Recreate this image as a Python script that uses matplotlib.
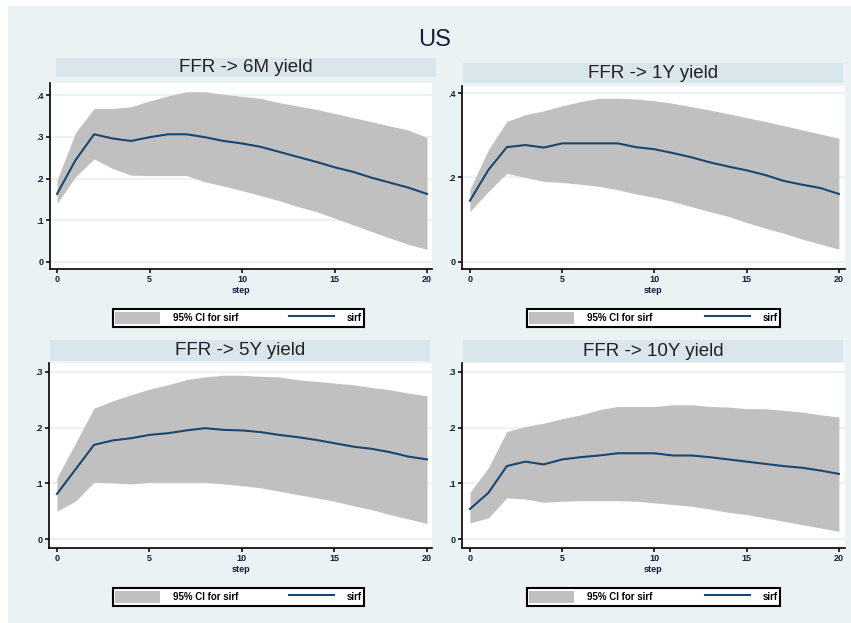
import numpy as np
import matplotlib
matplotlib.use('Agg')
import matplotlib.pyplot as plt
from matplotlib.patches import Rectangle, Patch
from matplotlib.lines import Line2D
from matplotlib.ticker import FuncFormatter

plt.rcParams['font.family'] = ['Liberation Sans', 'DejaVu Sans']

# 数据：各期限收益率对 FFR 冲击的脉冲响应
step = np.arange(21)

panel_titles = ['FFR -> 6M yield', 'FFR -> 1Y yield', 'FFR -> 5Y yield', 'FFR -> 10Y yield']

irf_6m = [.163, .244, .306, .296, .290, .299, .306, .306, .299, .290, .284,
          .276, .264, .252, .240, .227, .216, .202, .190, .178, .163]
hi_6m = [.196, .310, .368, .368, .372, .386, .398, .408, .408, .402, .397,
         .392, .382, .374, .366, .356, .346, .336, .326, .316, .298]
lo_6m = [.140, .204, .247, .224, .208, .207, .207, .207, .192, .182, .171,
         .159, .147, .133, .121, .105, .089, .073, .057, .042, .030]

irf_1y = [.145, .218, .272, .277, .271, .281, .281, .281, .281, .272, .267,
          .258, .248, .236, .226, .217, .206, .192, .183, .175, .161]
hi_1y = [.172, .266, .333, .349, .358, .370, .380, .388, .388, .386, .382,
         .376, .368, .360, .351, .342, .333, .323, .313, .303, .293]
lo_1y = [.119, .167, .210, .200, .191, .188, .184, .179, .171, .161, .153,
         .143, .131, .119, .108, .093, .080, .068, .054, .042, .030]

irf_5y = [.081, .125, .169, .177, .181, .187, .190, .195, .199, .196, .195,
          .192, .187, .183, .178, .172, .166, .162, .156, .148, .143]
hi_5y = [.110, .172, .235, .248, .259, .269, .277, .286, .291, .294, .294,
         .292, .291, .286, .283, .280, .277, .272, .268, .262, .257]
lo_5y = [.050, .068, .102, .101, .099, .102, .102, .102, .102, .099, .096,
         .092, .086, .080, .074, .068, .060, .053, .044, .036, .028]

irf_10y = [.054, .083, .131, .139, .134, .143, .147, .150, .154, .154, .154,
           .150, .150, .147, .143, .139, .135, .131, .128, .123, .117]
hi_10y = [.084, .128, .193, .202, .208, .216, .223, .232, .238, .238, .238,
          .241, .241, .238, .237, .234, .234, .231, .228, .223, .219]
lo_10y = [.029, .038, .074, .072, .066, .068, .069, .069, .069, .068, .065,
          .062, .059, .054, .048, .044, .038, .032, .026, .020, .014]

irfs = [irf_6m, irf_1y, irf_5y, irf_10y]
his = [hi_6m, hi_1y, hi_5y, hi_10y]
los = [lo_6m, lo_1y, lo_5y, lo_10y]
yticks = [[0, .1, .2, .3, .4], [0, .2, .4], [0, .1, .2, .3], [0, .1, .2, .3]]

W, H = 851, 623
BG = '#EAF2F3'
BAND = '#D9E6EB'
CI = '#C0C0C0'
NAVY = '#1A476F'

# 像素位置 (x0, y0, x1, y1)
plot_px = [(50, 83, 432, 269), (462, 86, 845, 269), (49, 363, 432, 548), (462, 363, 845, 548)]
band_px = [(56, 58, 436, 77), (463, 63, 843, 83), (50, 340, 430, 361), (463, 340, 843, 362)]
leg_px = [(113, 307, 364, 329), (527, 307, 780, 329), (113, 587, 364, 607), (527, 587, 780, 607)]
ylims = [(-.017, .429), (-.017, .417), (-.016, .316), (-.016, .316)]
xlims = [(-.38, 20.27), (-.43, 20.33), (-.43, 20.27), (-.43, 20.33)]


def fig_rect(px):
    x0, y0, x1, y1 = px
    return [x0 / W, 1 - y1 / H, (x1 - x0) / W, (y1 - y0) / H]


def fmt(v, pos):
    if abs(v) < 1e-9:
        return '0'
    return ('%.1f' % v).lstrip('0')


fig = plt.figure(figsize=(W / 100, H / 100), dpi=100, facecolor=BG)
# 左侧和顶部的白边
fig.patches.append(Rectangle((0, 0), 8 / W, 1, transform=fig.transFigure,
                             facecolor='white', edgecolor='none', zorder=-10))
fig.patches.append(Rectangle((0, 1 - 6 / H), 1, 6 / H, transform=fig.transFigure,
                             facecolor='white', edgecolor='none', zorder=-10))
fig.text(435 / W, 1 - 40 / H, 'US', ha='center', va='center', fontsize=17, color='#1a1a3a')

for i in range(4):
    # 标题条
    bx = fig_rect(band_px[i])
    fig.patches.append(Rectangle((bx[0], bx[1]), bx[2], bx[3], transform=fig.transFigure,
                                 facecolor=BAND, edgecolor='none', zorder=-5))
    fig.text(bx[0] + bx[2] / 2, bx[1] + bx[3] / 2, panel_titles[i], ha='center', va='center',
             fontsize=13.5, color='#222222')

    ax = fig.add_axes(fig_rect(plot_px[i]))
    ax.set_facecolor('white')
    ax.fill_between(step, los[i], his[i], color=CI, linewidth=0, zorder=2)
    ax.plot(step, irfs[i], color=NAVY, linewidth=1.5, zorder=3)
    ax.set_xlim(*xlims[i])
    ax.set_ylim(*ylims[i])
    ax.set_xticks([0, 5, 10, 15, 20])
    ax.set_yticks(yticks[i])
    ax.yaxis.set_major_formatter(FuncFormatter(fmt))
    for t in yticks[i]:
        ax.axhline(t, color=BG, linewidth=1.5, zorder=1)
    ax.spines['top'].set_visible(False)
    ax.spines['right'].set_visible(False)
    ax.spines['left'].set_linewidth(1.2)
    ax.spines['bottom'].set_linewidth(1.2)
    ax.tick_params(axis='both', direction='out', length=3, width=1.1, labelsize=6.5,
                   pad=1.5, colors='black', labelcolor='#1a1a3a')
    for lab in ax.get_xticklabels() + ax.get_yticklabels():
        lab.set_fontweight('bold')
    ax.set_xlabel('step', fontsize=6.5, labelpad=1, color='#1a1a3a', fontweight='bold')

    lx = fig_rect(leg_px[i])
    handles = [Patch(facecolor=CI, edgecolor='none'), Line2D([], [], color=NAVY, linewidth=1.5)]
    leg = ax.legend(handles, ['95% CI for sirf', 'sirf'], ncol=2, mode='expand',
                    bbox_to_anchor=lx, bbox_transform=fig.transFigure, loc='center',
                    handlelength=4.6, handleheight=1.6, handletextpad=1.3,
                    columnspacing=3.0, borderpad=0.25, borderaxespad=0, fancybox=False,
                    framealpha=1, edgecolor='black',
                    prop={'size': 7, 'weight': 'bold'})
    leg.get_frame().set_linewidth(1.5)

fig.savefig('out.png', dpi=100, facecolor=BG)
